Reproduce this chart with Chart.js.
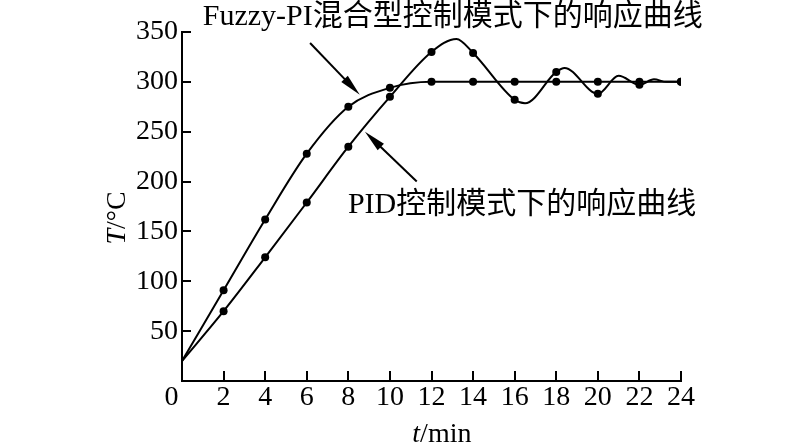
<!DOCTYPE html>
<html><head><meta charset="utf-8">
<script src="https://cdn.jsdelivr.net/npm/chart.js@4/dist/chart.umd.min.js"></script>
<style>html,body{margin:0;padding:0;background:#fff;overflow:hidden}</style>
</head><body>
<canvas id="c" width="800" height="443"></canvas>
<script>
// ---- data ----
const fuzzyTime = [0, 2, 4, 6, 8, 10, 12, 14, 16, 18, 20, 22, 24];
const fuzzyTemp = [20, 91, 162, 228, 275, 294, 300, 300, 300, 300, 300, 300, 300];
const pidTime = [0, 2, 4, 6, 8, 10, 12, 13.2, 14, 16, 16.5, 18, 18.4, 20, 21, 22, 22.7, 23.3, 24];
const pidTemp = [20, 70, 124, 179, 235, 285, 330, 343, 329, 282, 278.5, 310, 314, 288, 306, 297, 302.5, 300, 300];
const xTickValues = [0, 2, 4, 6, 8, 10, 12, 14, 16, 18, 20, 22, 24];
const yTickValues = [0, 50, 100, 150, 200, 250, 300, 350];
const fuzzyLabel = 'Fuzzy-PI混合型控制模式下的响应曲线';
const pidLabel = 'PID控制模式下的响应曲线';
// annotation anchors in data units
const fuzzyLabelAt = [1.0, 357];
const pidLabelAt = [7.98, 168.5];
const fuzzyArrow = {from: [6.16, 339], to: [8.55, 287]};
const pidArrow = {from: [11.29, 200], to: [8.8, 250]};

const SERIF = '"Liberation Serif", "Noto Sans CJK SC", serif';
const isMarker = t => t > 0 && t % 2 === 0;

function toPts(ts, vs) { return ts.map((t, i) => ({x: t, y: vs[i]})); }

function drawArrow(ctx, x, y, from, to) {
  const x1 = x.getPixelForValue(from[0]), y1 = y.getPixelForValue(from[1]);
  const x2 = x.getPixelForValue(to[0]), y2 = y.getPixelForValue(to[1]);
  const ang = Math.atan2(y2 - y1, x2 - x1);
  const L = 22, W = 4.5;
  ctx.lineWidth = 2;
  ctx.beginPath();
  ctx.moveTo(x1, y1);
  ctx.lineTo(x2 - Math.cos(ang) * L * 0.8, y2 - Math.sin(ang) * L * 0.8);
  ctx.stroke();
  ctx.beginPath();
  ctx.moveTo(x2, y2);
  ctx.lineTo(x2 - Math.cos(ang) * L - Math.sin(ang) * W, y2 - Math.sin(ang) * L + Math.cos(ang) * W);
  ctx.lineTo(x2 - Math.cos(ang) * L + Math.sin(ang) * W, y2 - Math.sin(ang) * L - Math.cos(ang) * W);
  ctx.closePath();
  ctx.fill();
}

function mixedText(ctx, parts, size) {
  let total = 0;
  parts.forEach(p => { ctx.font = (p[1] ? 'italic ' : '') + size + 'px ' + SERIF; p.w = ctx.measureText(p[0]).width; total += p.w; });
  let cx = -total / 2;
  parts.forEach(p => { ctx.font = (p[1] ? 'italic ' : '') + size + 'px ' + SERIF; ctx.fillText(p[0], cx, 0); cx += p.w; });
}

const annot = {
  id: 'annot',
  afterDraw(chart) {
    const {ctx, chartArea: a} = chart;
    const x = chart.scales.x, y = chart.scales.y;
    ctx.save();
    ctx.fillStyle = '#000'; ctx.strokeStyle = '#000';
    ctx.textBaseline = 'alphabetic'; ctx.textAlign = 'left';
    ctx.font = '30px ' + SERIF;
    ctx.fillText(fuzzyLabel, x.getPixelForValue(fuzzyLabelAt[0]), y.getPixelForValue(fuzzyLabelAt[1]));
    ctx.fillText(pidLabel, x.getPixelForValue(pidLabelAt[0]), y.getPixelForValue(pidLabelAt[1]));
    drawArrow(ctx, x, y, fuzzyArrow.from, fuzzyArrow.to);
    drawArrow(ctx, x, y, pidArrow.from, pidArrow.to);
    // y axis title
    ctx.save();
    ctx.translate(a.left - 57, a.top + 186);
    ctx.rotate(-Math.PI / 2);
    mixedText(ctx, [['T', true], ['/°C', false]], 28);
    ctx.restore();
    // x axis title
    ctx.save();
    ctx.translate(x.getPixelForValue(12.5), a.bottom + 61);
    mixedText(ctx, [['t', true], ['/min', false]], 28);
    ctx.restore();
    ctx.restore();
  }
};

new Chart(document.getElementById('c'), {
  type: 'line',
  data: {
    datasets: [
      {
        label: 'Fuzzy-PI',
        data: toPts(fuzzyTime, fuzzyTemp),
        borderColor: '#000', backgroundColor: '#000', borderWidth: 2,
        cubicInterpolationMode: 'monotone',
        pointRadius: c => isMarker(c.raw.x) ? 4 : 0,
        pointBackgroundColor: '#000', pointBorderWidth: 0
      },
      {
        label: 'PID',
        data: toPts(pidTime, pidTemp),
        borderColor: '#000', backgroundColor: '#000', borderWidth: 2,
        cubicInterpolationMode: 'monotone',
        pointRadius: c => isMarker(c.raw.x) ? 4 : 0,
        pointBackgroundColor: '#000', pointBorderWidth: 0
      }
    ]
  },
  options: {
    responsive: false, animation: false, devicePixelRatio: 1,
    layout: {padding: {top: 32, right: 119, bottom: 0, left: 0}},
    plugins: {legend: {display: false}, tooltip: {enabled: false}, title: {display: false}},
    scales: {
      x: {
        type: 'linear', min: 0, max: 24,
        afterBuildTicks: s => { s.ticks = xTickValues.map(v => ({value: v})); },
        afterFit: s => { s.height = 62; },
        border: {display: true, color: '#000', width: 2},
        grid: {display: true, drawOnChartArea: false, drawTicks: true, tickLength: -10, color: '#000', lineWidth: 2},
        ticks: {color: '#000', padding: 10, maxRotation: 0, autoSkip: false,
          font: {family: SERIF, size: 28},
          callback: v => v === 0 ? '0   ' : String(v)}
      },
      y: {
        type: 'linear', min: 0, max: 350,
        afterBuildTicks: s => { s.ticks = yTickValues.map(v => ({value: v})); },
        afterFit: s => { s.width = 182; },
        border: {display: true, color: '#000', width: 2},
        grid: {display: true, drawOnChartArea: false, drawTicks: true, tickLength: -9, color: '#000', lineWidth: 2},
        ticks: {color: '#000', padding: 13, autoSkip: false,
          font: {family: SERIF, size: 28},
          callback: v => v === 0 ? '' : String(v)}
      }
    }
  },
  plugins: [annot]
});
</script>
</body></html>
